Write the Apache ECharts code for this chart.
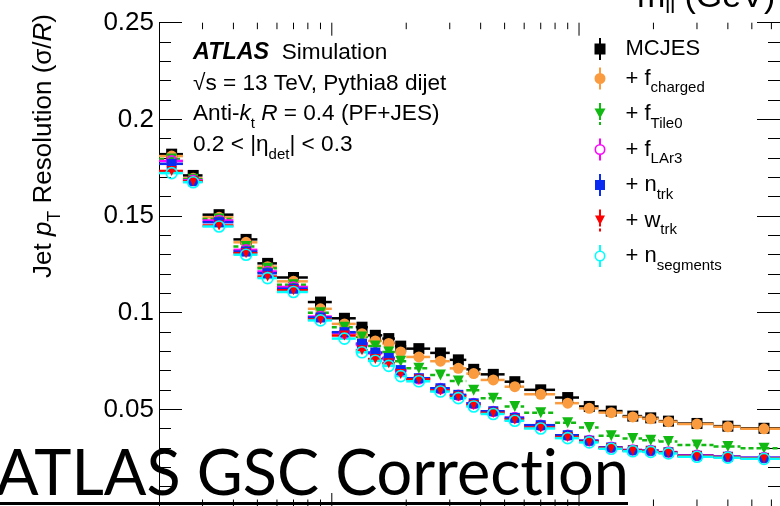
<!DOCTYPE html>
<html><head><meta charset="utf-8">
<script src="https://cdn.jsdelivr.net/npm/echarts@6/dist/echarts.min.js"></script>
<style>html,body{margin:0;padding:0;background:#fff}#c{width:780px;height:506px}</style>
</head><body><div id="c"></div>
<script>
// ---- data ----
const ptCenters = [22.5, 27.5, 35, 45, 55, 70, 90, 112.5, 132.5, 150, 170, 190, 225, 275, 325, 375, 450, 550, 700, 900, 1100, 1350, 1650, 1950, 2300, 3000, 4000, 5600];
const binEdges = [20, 25, 30, 40, 50, 60, 80, 100, 125, 140, 160, 180, 200, 250, 300, 350, 400, 500, 600, 800, 1000, 1200, 1500, 1800, 2100, 2500, 3500, 4500, 7000];
const seriesNames = ['MCJES', '+ f_charged', '+ f_Tile0', '+ f_LAr3', '+ n_trk', '+ w_trk', '+ n_segments'];
const resMCJES = [0.182, 0.171, 0.1507, 0.1379, 0.1255, 0.1182, 0.1055, 0.0971, 0.0925, 0.0883, 0.0866, 0.0827, 0.0814, 0.0792, 0.0756, 0.0707, 0.0681, 0.0643, 0.0601, 0.0561, 0.0515, 0.0491, 0.0465, 0.0456, 0.0439, 0.0427, 0.0413, 0.0402];
const resCharged = [0.181, 0.1695, 0.1493, 0.1364, 0.1238, 0.1162, 0.102, 0.0942, 0.0891, 0.0854, 0.0841, 0.0797, 0.0771, 0.0749, 0.0712, 0.0685, 0.0652, 0.0617, 0.0578, 0.0532, 0.0505, 0.0483, 0.0461, 0.0451, 0.0436, 0.0424, 0.041, 0.0399];
const resTile0 = [0.1795, 0.169, 0.1485, 0.1342, 0.123, 0.1145, 0.100, 0.0925, 0.0874, 0.0828, 0.0797, 0.0749, 0.0712, 0.0677, 0.0646, 0.0599, 0.0558, 0.0515, 0.0483, 0.043, 0.0406, 0.0363, 0.0349, 0.034, 0.0333, 0.0316, 0.0308, 0.0299];
const resLAr3 = [0.1785, 0.1685, 0.1477, 0.1325, 0.1213, 0.1133, 0.098, 0.0894, 0.0835, 0.079, 0.0762, 0.070, 0.0658, 0.0607, 0.0573, 0.053, 0.0489, 0.0457, 0.0417, 0.0366, 0.0338, 0.0304, 0.029, 0.0287, 0.0279, 0.0262, 0.0256, 0.025];
const resNtrk = [0.177, 0.168, 0.1468, 0.1316, 0.1204, 0.1124, 0.0975, 0.0899, 0.084, 0.0794, 0.0766, 0.0703, 0.0661, 0.0609, 0.0575, 0.0531, 0.049, 0.0456, 0.0418, 0.0366, 0.0338, 0.0303, 0.0289, 0.0286, 0.0278, 0.026, 0.0255, 0.0249];
const resWtrk = [0.1733, 0.168, 0.1451, 0.1308, 0.1187, 0.1116, 0.0965, 0.0882, 0.0806, 0.076, 0.0738, 0.0683, 0.0655, 0.0598, 0.0566, 0.0522, 0.0482, 0.0447, 0.0406, 0.0357, 0.0333, 0.030, 0.0287, 0.0284, 0.0276, 0.0258, 0.0253, 0.0247];
const resNseg = [0.1722, 0.1675, 0.1446, 0.130, 0.1179, 0.1107, 0.096, 0.0866, 0.0795, 0.0751, 0.0725, 0.0672, 0.0645, 0.0592, 0.0558, 0.0515, 0.0476, 0.0441, 0.0401, 0.0351, 0.0329, 0.0296, 0.0283, 0.028, 0.0272, 0.0255, 0.025, 0.0244];
const allValues = [resMCJES, resCharged, resTile0, resLAr3, resNtrk, resWtrk, resNseg];
const xMajorTicks = [100, 1000];
const xMinorTicks = [30, 40, 50, 60, 70, 80, 90, 200, 300, 400, 500, 600, 700, 800, 900, 2000, 3000, 4000, 5000, 6000];
const yTickLabels = ['0.05', '0.1', '0.15', '0.2', '0.25'];

// ---- styles ----
const F = "'Liberation Sans', Arimo, Helvetica, Arial, sans-serif";
const colors = ['#000000', '#f99b3e', '#12b912', '#ff00ff', '#0a2cf2', '#ff0000', '#00ffff'];
const symbols = ['rect', 'circle', 'triangle', 'circle', 'rect', 'triangle', 'circle'];
const symRot = [0, 0, 180, 0, 0, 180, 0];
const symSize = [11, 11, 11, 10, 10, 10, 11];
const hollow = [false, false, false, true, false, false, true];
const dashed = [false, false, true, false, false, false, false];
const VB = 'M4.5,0H6.5V22H4.5Z ';
const RING = 'M4.5,0H6.5V6H4.5Z M4.5,16H6.5V22H4.5Z M0,11A5.5,5.5,0,1,1,11,11A5.5,5.5,0,1,1,0,11Z M1.6,11A3.9,3.9,0,1,0,9.4,11A3.9,3.9,0,1,0,1.6,11Z';
const icons = [
  'path://' + VB + 'M0,5.5H11V16.5H0Z',
  'path://' + VB + 'M0,11A5.5,5.5,0,1,1,11,11A5.5,5.5,0,1,1,0,11Z',
  'path://M4.5,0H6.5V6H4.5Z M4.5,14H6.5V17H4.5Z M4.5,19H6.5V22H4.5Z M0,5.5H11L5.5,15.5Z',
  'path://' + RING,
  'path://' + VB + 'M0.5,6H10.5V16H0.5Z',
  'path://M4.5,0H6.5V6H4.5Z M4.5,14H6.5V17H4.5Z M4.5,19H6.5V22H4.5Z M0.5,6H10.5L5.5,15.5Z',
  'path://' + RING
];
const rich = {
  m: {fontFamily: F, fontSize: 22, lineHeight: 28, color: '#000'},
  t: {fontFamily: F, fontSize: 22.6, lineHeight: 28, color: '#000'},
  i: {fontFamily: F, fontSize: 22.6, lineHeight: 28, fontStyle: 'italic', color: '#000'},
  b: {fontFamily: F, fontSize: 23.4, lineHeight: 28, fontStyle: 'italic', fontWeight: 'bold', color: '#000'},
  s: {fontFamily: F, fontSize: 15, lineHeight: 12, padding: [16, 0, 0, 0], verticalAlign: 'top', color: '#000'}
};
const richY = {
  m: {fontFamily: F, fontSize: 26, lineHeight: 32, color: '#000'},
  i: {fontFamily: F, fontSize: 26, lineHeight: 32, fontStyle: 'italic', color: '#000'},
  s: {fontFamily: F, fontSize: 18, lineHeight: 14, padding: [18, 0, 0, 0], verticalAlign: 'top', color: '#000'}
};
function toRich(name) {
  const k = name.indexOf('_');
  if (k < 0) return '{m|' + name + '}';
  return '{m|' + name.slice(0, k) + '}{s|' + name.slice(k + 1) + '}';
}

const series = [];
allValues.forEach((vals, si) => {
  const barData = vals.map((v, i) => [ptCenters[i], v, binEdges[i], binEdges[i + 1]]);
  series.push({
    type: 'custom', name: seriesNames[si] + ' bins', silent: true,
    data: barData,
    encode: {x: 0, y: 1},
    renderItem: (params, api) => {
      const y = api.value(1);
      const a = api.coord([api.value(2), y]);
      const b = api.coord([api.value(3), y]);
      return {type: 'line', shape: {x1: a[0], y1: a[1], x2: b[0], y2: b[1]},
        style: {stroke: colors[si], lineWidth: 2.5, lineDash: dashed[si] ? [5, 3] : null}};
    }
  });
  series.push({
    type: 'scatter', name: seriesNames[si], silent: true,
    data: vals.map((v, i) => [ptCenters[i], v]),
    symbol: symbols[si], symbolRotate: symRot[si], symbolSize: symSize[si],
    itemStyle: hollow[si] ? {color: 'rgba(255,255,255,0)', borderColor: colors[si], borderWidth: 1.6, opacity: 1}
                          : {color: colors[si], borderWidth: 0, opacity: 1}
  });
});
function tickSeries(vals, len) {
  return {
    type: 'custom', name: 'ticks' + len, silent: true,
    data: vals.map(v => [v, 0]), encode: {x: 0, y: 1},
    renderItem: (params, api) => {
      const v = api.value(0);
      const t = api.coord([v, 0.25]);
      const b = api.coord([v, 0]);
      return {type: 'group', children: [
        {type: 'line', shape: {x1: t[0], y1: t[1], x2: t[0], y2: t[1] + len}, style: {stroke: '#000', lineWidth: 1}},
        {type: 'line', shape: {x1: b[0], y1: b[1], x2: b[0], y2: b[1] - len}, style: {stroke: '#000', lineWidth: 1}}
      ]};
    }
  };
}
series.push(tickSeries(xMajorTicks, 13));
series.push(tickSeries(xMinorTicks, 6.5));

const xBase = {type: 'log', logBase: 10, min: 20, max: 6500,
  axisLine: {show: true, lineStyle: {color: '#000', width: 1}}, axisTick: {show: false},
  axisLabel: {show: false}, splitLine: {show: false}, minorTick: {show: false}, minorSplitLine: {show: false}};
const yBase = {type: 'value', min: 0, max: 0.25, interval: 0.05,
  axisLine: {show: true, lineStyle: {color: '#000', width: 1}},
  axisTick: {show: true, inside: true, length: 23, lineStyle: {color: '#000', width: 1}},
  minorTick: {show: true, splitNumber: 5, length: 12, lineStyle: {color: '#000', width: 1}},
  splitLine: {show: false}};

const chart = echarts.init(document.getElementById('c'), null, {renderer: 'canvas', width: 780, height: 506});
chart.setOption({
  animation: false,
  backgroundColor: '#fff',
  grid: {left: 159, right: -12, top: 22.7, bottom: -6.7, containLabel: false},
  xAxis: [Object.assign({position: 'bottom'}, xBase), Object.assign({position: 'top'}, xBase)],
  yAxis: [
    Object.assign({position: 'left',
      axisLabel: {fontFamily: F, fontSize: 26, color: '#000', margin: 5,
        formatter: v => { const s = String(+(+v).toFixed(2)); return yTickLabels.indexOf(s) >= 0 ? s : ''; }}}, yBase),
    Object.assign({position: 'right', axisLabel: {show: false}}, yBase)
  ],
  legend: {
    show: true, orient: 'vertical', left: 594.5, top: 38, padding: 0, itemGap: 4.5,
    itemWidth: 11, itemHeight: 22, selectedMode: false,
    data: seriesNames.map((n, i) => ({name: n, icon: icons[i], itemStyle: {color: colors[i], borderWidth: 0, opacity: 1}})),
    formatter: n => toRich(n),
    textStyle: {fontFamily: F, fontSize: 22, color: '#000', padding: [0, 0, 0, 15], rich: rich}
  },
  graphic: [
    {type: 'text', x: 44, y: 146, rotation: Math.PI / 2, z: 50,
      style: {text: '{m|Jet }{i|p}{s|T}{m| Resolution (σ/}{i|R}{m|)}', rich: richY, align: 'center', verticalAlign: 'middle'}},
    {type: 'text', x: 193, y: 53, z: 50, style: {text: '{b|ATLAS}{t|  Simulation}', rich: rich, align: 'left', verticalAlign: 'middle'}},
    {type: 'text', x: 193, y: 84, z: 50, style: {text: '{t|√s = 13 TeV, Pythia8 dijet}', rich: rich, align: 'left', verticalAlign: 'middle'}},
    {type: 'text', x: 193, y: 114, z: 50, style: {text: '{t|Anti-}{i|k}{s|t}{t| }{i|R}{t| = 0.4 (PF+JES)}', rich: rich, align: 'left', verticalAlign: 'middle'}},
    {type: 'text', x: 193, y: 145, z: 50, style: {text: '{t|0.2 < |η}{s|det}{t|| < 0.3}', rich: rich, align: 'left', verticalAlign: 'middle'}},
    {type: 'text', x: 637, y: -2.5, z: 50, style: {text: '{m|m}{s|ll}{m| (GeV)}', rich: {
      m: {fontFamily: F, fontSize: 34, lineHeight: 40, color: '#000'},
      s: {fontFamily: F, fontSize: 22, lineHeight: 10, padding: [18.2, 0, 0, 0], verticalAlign: 'top', color: '#000'}}, align: 'left', verticalAlign: 'middle'}},
    {type: 'text', x: -4, y: 475, z: 100, style: {text: 'ATLAS GSC Correct\u200Cion', fontFamily: 'Lato', fontSize: 63, fill: '#000', align: 'left', verticalAlign: 'middle'}},
    {type: 'line', z: 100, shape: {x1: 0, y1: 503.5, x2: 628, y2: 503.5}, style: {stroke: '#000', lineWidth: 3}}
  ],
  series: series
});
</script></body></html>
